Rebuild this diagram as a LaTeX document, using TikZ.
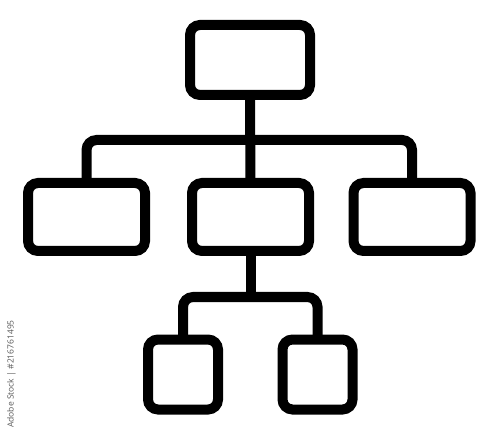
\documentclass[tikz,border=0pt]{standalone}
\usepackage{fontspec}
\setsansfont{Open Sans}
\usetikzlibrary{backgrounds}
\begin{document}
\begin{tikzpicture}[x=1pt,y=-1pt,
  box/.style={draw=black,line width=10pt,rounded corners=10pt,fill=white,
    inner sep=0pt,outer sep=0pt,rectangle},
  wide/.style={box,minimum width=117pt,minimum height=68pt},
  small/.style={box,minimum width=70pt,minimum height=70pt},
  link/.style={draw=black,line width=10pt,rounded corners=10pt}]
\useasboundingbox (0,0) rectangle (500,435);
\coordinate (busY) at (0,140);
\coordinate (bus2Y) at (0,297);
\node[box,minimum width=120pt,minimum height=70pt] (top) at (250,60) {};
\node[wide] (left) at (86.5,217) {};
\node[wide] (mid) at (250.5,217) {};
\node[wide] (right) at (412,217) {};
\node[small] (bl) at (183,374.5) {};
\node[small] (br) at (317.5,374.5) {};
\begin{scope}[on background layer]
\fill[white] (0,0) rectangle (500,435);
\path[link] (top.south) -- (mid.north);
\path[link] (left.north) -- (left.north |- busY) -- (right.north |- busY) -- (right.north);
\path[link] (mid.south) -- (mid.south |- bus2Y);
\path[link] (bl.north) -- (bl.north |- bus2Y) -- (br.north |- bus2Y) -- (br.north);
\end{scope}
\node[rotate=90,text=black!65,font=\sffamily\fontsize{8.5}{10}\selectfont,inner sep=0pt] (wm) at (11.5,374) {Adobe Stock | \#216761495};
\end{tikzpicture}
\end{document}
